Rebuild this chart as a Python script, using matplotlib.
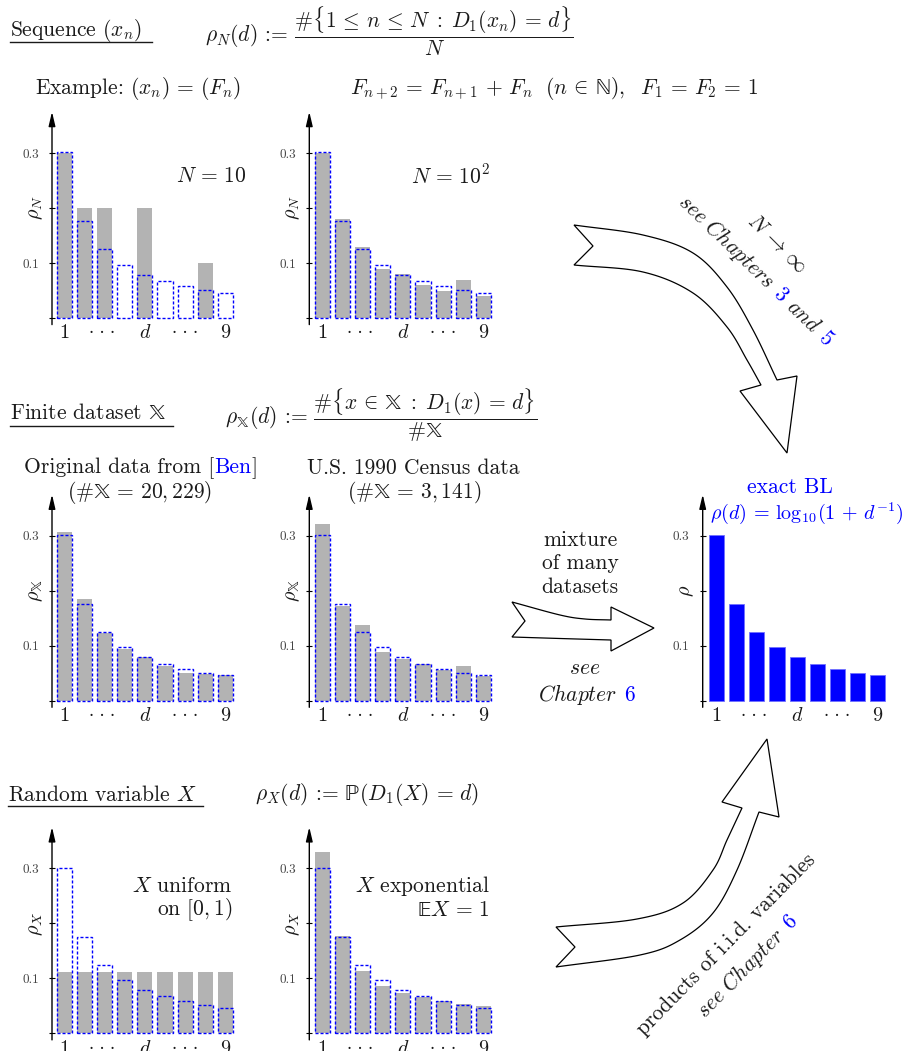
import matplotlib
matplotlib.use('Agg')
import matplotlib.pyplot as plt
import numpy as np
from matplotlib.patches import Polygon
from matplotlib.lines import Line2D

plt.rcParams['font.family'] = 'serif'
plt.rcParams['font.serif'] = ['cmr10']
plt.rcParams['mathtext.fontset'] = 'cm'
plt.rcParams['axes.unicode_minus'] = False
plt.rcParams['axes.formatter.use_mathtext'] = True

# ---------------- data ----------------
digits = [1, 2, 3, 4, 5, 6, 7, 8, 9]
benford = [0.301, 0.176, 0.125, 0.097, 0.079, 0.067, 0.058, 0.051, 0.046]
fib_n10 = [0.3, 0.2, 0.2, 0.0, 0.2, 0.0, 0.0, 0.1, 0.0]
fib_n100 = [0.30, 0.18, 0.13, 0.09, 0.08, 0.06, 0.05, 0.07, 0.04]
benford_original = [0.306, 0.185, 0.124, 0.094, 0.080, 0.064, 0.051, 0.049, 0.047]
census_1990 = [0.321, 0.172, 0.137, 0.088, 0.075, 0.067, 0.055, 0.063, 0.045]
uniform_x = [0.111, 0.111, 0.111, 0.111, 0.111, 0.111, 0.111, 0.111, 0.111]
exponential_x = [0.330, 0.177, 0.113, 0.086, 0.074, 0.066, 0.059, 0.053, 0.050]
xtick_pos = [1, 2.85, 5, 7, 9]
xtick_labels = ['1', '\u00b7 \u00b7 \u00b7', r'$d$', '\u00b7 \u00b7 \u00b7', '9']
ytick_pos = [0, 0.1, 0.2, 0.3]
ytick_labels = ['', '0.1', '', '0.3']

W, H = 915, 1051
fig = plt.figure(figsize=(W / 100, H / 100), dpi=100)
PX = 20.1
PY = 550.0
YLO, YHI = -0.012, 0.375
GRAY = '#b3b3b3'
BLUE = '#0000ff'
FS = 15.5
TFS = 14.5
TC = '#1a1a1a'
BBX = r'\mathrm{\mathbb{X}}'


def make_chart(axis_x, base_y, off, ylabel, gray=None, outline=None, solid=None):
    xl = 1 - off / PX
    width_px = off + 8 * PX + 14
    xr = xl + width_px / PX
    bottom_px = base_y - YLO * PY
    height_px = (YHI - YLO) * PY
    ax = fig.add_axes([axis_x / W, 1 - bottom_px / H, width_px / W, height_px / H])
    ax.set_xlim(xl, xr)
    ax.set_ylim(YLO, YHI)
    ax.patch.set_visible(False)
    for s in ax.spines.values():
        s.set_visible(False)
    if gray is not None:
        ax.bar(digits, gray, width=0.75, color=GRAY, linewidth=0, zorder=1)
    if solid is not None:
        ax.bar(digits, solid, width=0.75, color=BLUE, edgecolor='#7070ff',
               linewidth=0.6, zorder=1)
    if outline is not None:
        ax.bar(digits, outline, width=0.75, fill=False, edgecolor=BLUE,
               linewidth=1.0, linestyle=(0, (2.2, 1.4)), zorder=2)
    ax.set_xticks(xtick_pos)
    ax.set_xticklabels(xtick_labels, fontsize=TFS, color=TC)
    for lbl in ax.get_xticklabels():
        lbl.set_verticalalignment('baseline')
        if '\u00b7' in lbl.get_text():
            lbl.set_fontfamily('DejaVu Serif')
            lbl.set_fontsize(12)
    ax.tick_params(axis='x', length=0, pad=9.9)
    ax.set_yticks(ytick_pos)
    ax.set_yticklabels(ytick_labels, fontsize=9.5, color='#444444')
    ax.tick_params(axis='y', direction='inout', length=5, width=0.8, pad=7)
    ax.annotate('', xy=(xl, YHI), xytext=(xl, YLO), xycoords='data',
                arrowprops=dict(arrowstyle='-|>,head_length=0.85,head_width=0.2',
                                color='k', lw=1.0, shrinkA=0, shrinkB=0,
                                mutation_scale=10),
                annotation_clip=False)
    ax.annotate(ylabel, xy=(xl, 0.2), xytext=(-16, 0), textcoords='offset pixels',
                rotation=90, ha='center', va='center', fontsize=TFS,
                color=TC, annotation_clip=False)
    return ax


make_chart(52, 318, 12.5, r'$\rho_N$', gray=fib_n10, outline=benford)
make_chart(309.3, 318, 13.2, r'$\rho_N$', gray=fib_n100, outline=benford)
make_chart(52, 700.7, 12.5, r'$\rho_{' + BBX + '}$', gray=benford_original, outline=benford)
make_chart(309.3, 700.7, 13.2, r'$\rho_{' + BBX + '}$', gray=census_1990, outline=benford)
make_chart(702.7, 700.7, 14, r'$\rho$', solid=benford)
make_chart(52, 1033.3, 12.5, r'$\rho_X$', gray=uniform_x, outline=benford)
make_chart(309.3, 1033.3, 13.2, r'$\rho_X$', gray=exponential_x, outline=benford)

# ---------------- overlay for text and arrows ----------------
ov = fig.add_axes([0, 0, 1, 1])
ov.set_xlim(0, W)
ov.set_ylim(H, 0)
ov.axis('off')
ov.set_zorder(10)
ov.patch.set_alpha(0)


def T(x, y, s, ha='left', va='center', size=FS, color=TC, **kw):
    return ov.text(x, y, s, ha=ha, va=va, fontsize=size, color=color, **kw)


def uline(x0, x1, y):
    ov.add_line(Line2D([x0, x1], [y, y], color=TC, lw=1.0))


renderer = fig.canvas.get_renderer()


def rich(x, y, pieces, angle=0.0, ha='center', size=FS, dy=5.0):
    em = size * 100 / 72
    widths = []
    for s, c in pieces:
        if s == ' ':
            widths.append(0.33 * em)
            continue
        t = ov.text(0, 0, s, fontsize=size)
        widths.append(t.get_window_extent(renderer=renderer).width)
        t.remove()
    total = sum(widths)
    start = {'left': 0.0, 'center': -total / 2, 'right': -total}[ha]
    th = np.deg2rad(angle)
    ux, uy = np.cos(th), -np.sin(th)
    dx, dyv = np.sin(th), np.cos(th)
    bx, by = x + dy * dx, y + dy * dyv
    pos = start
    for (s, c), w in zip(pieces, widths):
        if s != ' ':
            ov.text(bx + pos * ux, by + pos * uy, s, color=c, fontsize=size,
                    rotation=angle, rotation_mode='anchor', ha='left', va='baseline')
        pos += w


# Row 1
T(10, 30, r'Sequence $(x_n)$')
uline(10, 152, 42)
T(205, 31, r'$\rho_N(d)$ := $\dfrac{\#\{1 \,\leq\, n \,\leq\, N \;:\; D_1(x_n) \,=\, d\}}{N}$')
T(35, 88, r'Example: $(x_n) \,=\, (F_n)$')
T(350, 88, r'$F_{n+2} \,=\, F_{n+1} \,+\, F_n\ \ (n \,\in\, \mathrm{\mathbb{N}}),\ \ F_1 \,=\, F_2 \,=\, 1$')
T(247, 176, r'$N \,=\, 10$', ha='right')
T(490, 176, r'$N \,=\, 10^2$', ha='right')

# Row 2
T(10, 413, r'Finite dataset $' + BBX + '$')
uline(10, 173, 426)
T(225, 415, r'$\rho_{' + BBX + r'}(d)$ := $\dfrac{\#\{x \,\in\, ' + BBX
  + r' \;:\; D_1(x) \,=\, d\}}{\#' + BBX + '}$')
rich(141, 468, [('Original data from [', TC), ('Ben', BLUE), (']', TC)])
T(140, 492, r'$(\#' + BBX + r' \,=\, 20,229)$', ha='center')
T(413, 468, 'U.S. 1990 Census data', ha='center')
T(414, 492, r'$(\#' + BBX + r' \,=\, 3,141)$', ha='center')
T(580, 540, 'mixture', ha='center')
T(580, 563, 'of many', ha='center')
T(580, 587, 'datasets', ha='center')
T(585, 668, r'$\mathit{see}$', ha='center')
rich(587, 696, [(r'$\mathit{Chapter}$', TC), (' ', None), (r'$\mathit{6}$', BLUE)])
T(790, 487, 'exact BL', ha='center', color=BLUE)
T(710, 513, r'$\rho(d) \,=\, \mathrm{log}_{10}(1 \,+\, d^{-1})$', color=BLUE, size=14.5)

# Row 3
T(8, 795, r'Random variable $X$')
uline(8, 203, 806)
T(255, 795, r'$\rho_X(d)$ := $\mathrm{\mathbb{P}}(D_1(X) \,=\, d)$')
T(232, 886, r'$X$ uniform', ha='right')
T(232, 910, r'on $[0,1)$', ha='right')
T(490, 886, r'$X$ exponential', ha='right')
T(490, 910, r'$\mathrm{\mathbb{E}}X \,=\, 1$', ha='right')

# rotated labels
ov.text(777, 244, r'$N \,\to\, \infty$', rotation=-45, rotation_mode='anchor',
        ha='center', va='center', fontsize=FS, color=TC)
rich(755, 271, [(r'$\mathit{see\ Chapters}$', TC), (' ', None), (r'$\mathit{3}$', BLUE),
                (' ', None), (r'$\mathit{and}$', TC), (' ', None), (r'$\mathit{5}$', BLUE)],
     angle=-44)
rich(727, 945, [('products of i.i.d. variables', TC)], angle=45.5)
rich(748, 967, [(r'$\mathit{see\ Chapter}$', TC), (' ', None), (r'$\mathit{6}$', BLUE)],
     angle=45.5)


# ---------------- block arrows ----------------
def smooth(pts, n=24):
    pts = np.asarray(pts, float)
    P = np.vstack([2 * pts[0] - pts[1], pts, 2 * pts[-1] - pts[-2]])
    out = []
    for i in range(1, len(P) - 2):
        p0, p1, p2, p3 = P[i - 1], P[i], P[i + 1], P[i + 2]
        for t in np.linspace(0, 1, n, endpoint=False):
            out.append(0.5 * (2 * p1 + (-p0 + p2) * t
                              + (2 * p0 - 5 * p1 + 4 * p2 - p3) * t ** 2
                              + (-p0 + 3 * p1 - 3 * p2 + p3) * t ** 3))
    out.append(pts[-1])
    return np.array(out)


def block_arrow(edge_a, head, edge_b, notch):
    pts = np.vstack([smooth(edge_a), np.array(head, float),
                     smooth(edge_b)[::-1], np.array([notch], float)])
    ov.add_patch(Polygon(pts, closed=True, facecolor='white', edgecolor='black',
                         lw=0.9, joinstyle='miter'))


block_arrow([(574, 225), (643, 235), (693, 253), (727, 287), (753, 330), (777, 380)],
            [(797, 376), (787, 453), (740, 391)],
            [(574, 265), (643, 272), (693, 293), (727, 327), (747, 360), (761, 385)],
            (593, 246))
block_arrow([(512, 602), (560, 615), (585, 619), (611, 620)],
            [(611, 607), (654, 628), (611, 651)],
            [(512, 637), (560, 638.5), (611, 640)],
            (525, 621))
block_arrow([(556, 927), (637, 919), (683, 903), (713, 870), (727, 840), (742, 808)],
            [(722, 802), (767, 739), (779, 817)],
            [(556, 967), (640, 955), (680, 940), (713, 913), (737, 870), (759, 812)],
            (575, 947))

fig.savefig('out.png', dpi=100)
